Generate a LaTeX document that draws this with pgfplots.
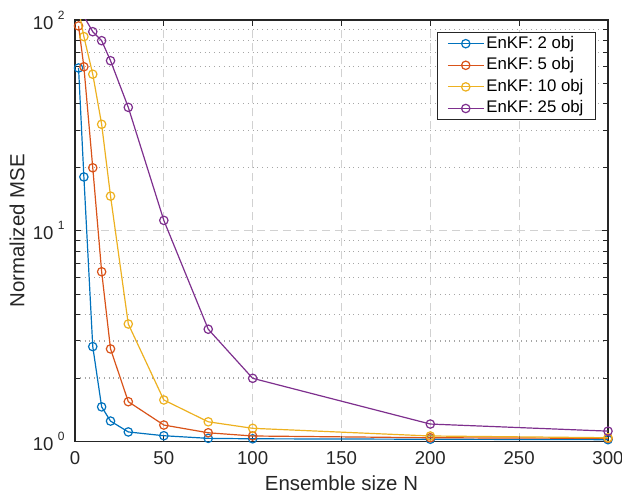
\documentclass[border=0pt]{standalone}
\usepackage{fontspec}
\setmainfont{Liberation Sans}
\usepackage{pgfplots}
\pgfplotsset{compat=1.18}

\definecolor{mblue}{rgb}{0,0.447,0.741}
\definecolor{mred}{rgb}{0.850,0.325,0.098}
\definecolor{myellow}{rgb}{0.929,0.694,0.125}
\definecolor{mpurple}{rgb}{0.494,0.184,0.556}
\definecolor{axgray}{rgb}{0.15,0.15,0.15}

\newcommand{\dec}[1]{10\hspace{2.2pt}\raisebox{5pt}{\fontsize{6}{6}\selectfont #1}}

% points above 100 are cut at the top of the axis (their markers are not shown)
\pgfplotstableread{
N    obj2   obj5   obj10  obj25
2    59.2   93.7   113    112
5    18.0   60.0   83.4   104
10   2.82   19.9   55.3   88.0
15   1.46   6.39   32.0   79.8
20   1.25   2.75   14.6   64.1
30   1.11   1.545  3.61   38.5
50   1.065  1.197  1.574  11.2
75   1.035  1.10   1.24   3.41
100  1.03   1.062  1.155  1.995
200  1.025  1.042  1.062  1.21
300  1.02   1.035  1.042  1.12
}\mse

\begin{document}
\begin{tikzpicture}
\begin{semilogyaxis}[
  scale only axis,
  width=266.5pt, height=210.75pt,
  xmin=0, xmax=300, ymin=1, ymax=100,
  xtick={0,50,...,300},
  ytick={1,10,100},
  yticklabels={\dec{0},\dec{1},\dec{2}},
  minor ytick={2,3,...,9,20,30,...,90},
  tick pos=both, tick align=inside,
  major tick length=3pt, minor tick length=2.5pt,
  every tick/.style={axgray, line width=0.5pt},
  axis line style={axgray, line width=0.6pt},
  grid=both,
  major grid style={dashed, dash pattern=on 4pt off 2.5pt, black!18, line width=0.6pt},
  minor grid style={dotted, black!35, line width=0.6pt},
  tick label style={font=\fontsize{9.3}{11}\selectfont, text=axgray},
  /pgf/number format/assume math mode=true,
  xticklabel style={anchor=north, inner sep=0pt, yshift=-5pt},
  yticklabel style={anchor=east, inner sep=0pt, xshift=-5pt},
  label style={font=\fontsize{10.2}{12}\selectfont, text=axgray},
  xlabel={Ensemble size N},
  ylabel={Normalized MSE},
  xlabel style={at={(rel axis cs:0.5,0)}, anchor=base, yshift=-24.3pt},
  ylabel style={at={([xshift=-29pt]rel axis cs:0,0.5)}, anchor=center},
  clip mode=individual,
  every axis plot/.append style={line width=0.6pt, mark size=2.1pt, mark options={solid}},
  legend image code/.code={\draw[#1, sharp plot, mark=o, mark indices={2}] plot coordinates {(0pt,0pt) (9pt,0pt) (18pt,0pt)};},
  legend style={at={(1,1)}, anchor=north east, xshift=-6pt, yshift=-6pt,
    font=\fontsize{8.4}{10}\selectfont, draw=axgray, line width=0.5pt, fill=white,
    inner xsep=5pt, inner ysep=0.2pt, row sep=0pt,
    nodes={text height=6.4pt, text depth=2pt, inner ysep=1.2pt, inner xsep=1pt}},
  legend cell align=left,
]
\addplot[mblue, mark=o] table[x=N, y=obj2] {\mse};
\addlegendentry{EnKF: 2 obj}
\addplot[mred, mark=o] table[x=N, y=obj5] {\mse};
\addlegendentry{EnKF: 5 obj}
\addplot[myellow, no marks, forget plot] table[x=N, y=obj10] {\mse};
\addplot[myellow, only marks, mark=o, skip coords between index={0}{1}] table[x=N, y=obj10] {\mse};
\addlegendentry{EnKF: 10 obj}
\addplot[mpurple, no marks, forget plot] table[x=N, y=obj25] {\mse};
\addplot[mpurple, only marks, mark=o, skip coords between index={0}{2}] table[x=N, y=obj25] {\mse};
\addlegendentry{EnKF: 25 obj}
\end{semilogyaxis}
\pgfresetboundingbox
\useasboundingbox (-37.5pt,-25.75pt) rectangle (273.5pt,220.75pt);
\end{tikzpicture}
\end{document}
